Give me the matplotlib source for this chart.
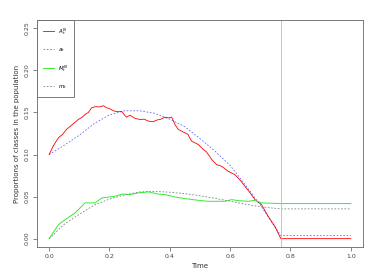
import matplotlib
matplotlib.use("Agg")
import matplotlib.pyplot as plt

# A_t^N (stochastic, red)
t_A = [0, 0.015, 0.031, 0.045, 0.058, 0.075, 0.097, 0.11, 0.119, 0.13, 0.141, 0.155, 0.165,
       0.18, 0.191, 0.2, 0.213, 0.225, 0.241, 0.252, 0.257, 0.268, 0.285, 0.301, 0.315, 0.329,
       0.345, 0.357, 0.368, 0.384, 0.395, 0.406, 0.417, 0.428, 0.45, 0.46, 0.472, 0.494, 0.511,
       0.522, 0.539, 0.555, 0.572, 0.594, 0.616, 0.632, 0.649, 0.665, 0.682, 0.704, 0.726,
       0.748, 0.768, 1.0]
v_A = [0.100, 0.111, 0.120, 0.124, 0.130, 0.135, 0.1417, 0.1445, 0.1476, 0.150, 0.1556, 0.157,
       0.1565, 0.158, 0.1555, 0.1545, 0.152, 0.151, 0.151, 0.146, 0.1444, 0.1468, 0.1429,
       0.1417, 0.142, 0.1397, 0.139, 0.141, 0.1417, 0.1444, 0.1435, 0.1445, 0.1357, 0.1298,
       0.1258, 0.124, 0.1159, 0.112, 0.106, 0.103, 0.094, 0.088, 0.086, 0.080, 0.076, 0.070,
       0.0623, 0.055, 0.0464, 0.0405, 0.0266, 0.0147, 0.0, 0.0]

# a_t (deterministic, blue dashed)
t_a = [0, 0.05, 0.1, 0.15, 0.2, 0.25, 0.3, 0.35, 0.4, 0.45, 0.5, 0.55, 0.6, 0.65, 0.7, 0.75, 0.768, 1.0]
v_a = [0.100, 0.111, 0.123, 0.137, 0.147, 0.152, 0.152, 0.149, 0.142, 0.133, 0.119, 0.104,
       0.087, 0.064, 0.040, 0.013, 0.0036, 0.0036]

# M_t^N (stochastic, green)
t_M = [0, 0.031, 0.053, 0.086, 0.108, 0.119, 0.152, 0.175, 0.219, 0.241, 0.268, 0.296, 0.329,
       0.362, 0.384, 0.417, 0.45, 0.494, 0.527, 0.583, 0.605, 0.627, 0.66, 0.682, 0.704, 0.768, 1.0]
v_M = [0, 0.0167, 0.0226, 0.0306, 0.0385, 0.0425, 0.0425, 0.0484, 0.0504, 0.053, 0.0524, 0.0544,
       0.0556, 0.053, 0.0524, 0.0496, 0.0476, 0.0456, 0.0444, 0.0444, 0.0464, 0.0452, 0.0444,
       0.0456, 0.0425, 0.0417, 0.0417]

# m_t (deterministic, gray dashed)
t_m = [0, 0.05, 0.1, 0.15, 0.2, 0.25, 0.3, 0.35, 0.4, 0.45, 0.5, 0.55, 0.6, 0.65, 0.7, 0.75, 0.768, 1.0]
v_m = [0, 0.017, 0.029, 0.040, 0.047, 0.052, 0.0555, 0.0562, 0.0552, 0.0535, 0.051, 0.048,
       0.0445, 0.041, 0.038, 0.036, 0.0354, 0.0354]

t_stop = 0.768
labels = ["$A_t^N$", "$a_t$", "$M_t^N$", "$m_t$"]

fig = plt.figure(figsize=(3.82, 2.73), dpi=100)
ax = fig.add_axes([0.097, 0.095, 0.853, 0.832])

ax.plot(t_A, v_A, color="red", lw=0.6, label=labels[0])
ax.plot(t_a, v_a, color="blue", lw=0.6, ls=(0, (2, 2)), alpha=0.6, label=labels[1])
ax.plot(t_M, v_M, color="#33ee33", lw=0.7, label=labels[2])
ax.plot(t_m, v_m, color="gray", lw=0.6, ls=(0, (2, 2)), label=labels[3])
ax.axvline(t_stop, color="#bbbbbb", lw=0.6)

ax.set_xlim(-0.04, 1.04)
ax.set_ylim(-0.01, 0.26)
ax.set_xticks([0.0, 0.2, 0.4, 0.6, 0.8, 1.0])
ax.set_xticklabels(["0.0", "0.2", "0.4", "0.6", "0.8", "1.0"])
ax.set_yticks([0.0, 0.05, 0.10, 0.15, 0.20, 0.25])
ax.set_yticklabels(["0.00", "0.05", "0.10", "0.15", "0.20", "0.25"], rotation=90, va="center")
ax.tick_params(labelsize=4.5, length=3, width=0.5, color="#555555", labelcolor="#444444", pad=2)
for s in ax.spines.values():
    s.set_linewidth(0.6)
    s.set_color("#666666")

ax.set_xlabel("Time", fontsize=5, color="#333333", labelpad=3)
ax.set_ylabel("Proportions of classes in the population", fontsize=5, color="#333333", labelpad=4)

leg = ax.legend(loc="upper left", bbox_to_anchor=(0, 1), borderaxespad=0, fontsize=4,
                fancybox=False, edgecolor="#666666", handlelength=2.0, labelspacing=1.65,
                borderpad=1.1, handletextpad=0.6, framealpha=1)
leg.get_frame().set_linewidth(0.6)

fig.savefig("out.png", dpi=100)
